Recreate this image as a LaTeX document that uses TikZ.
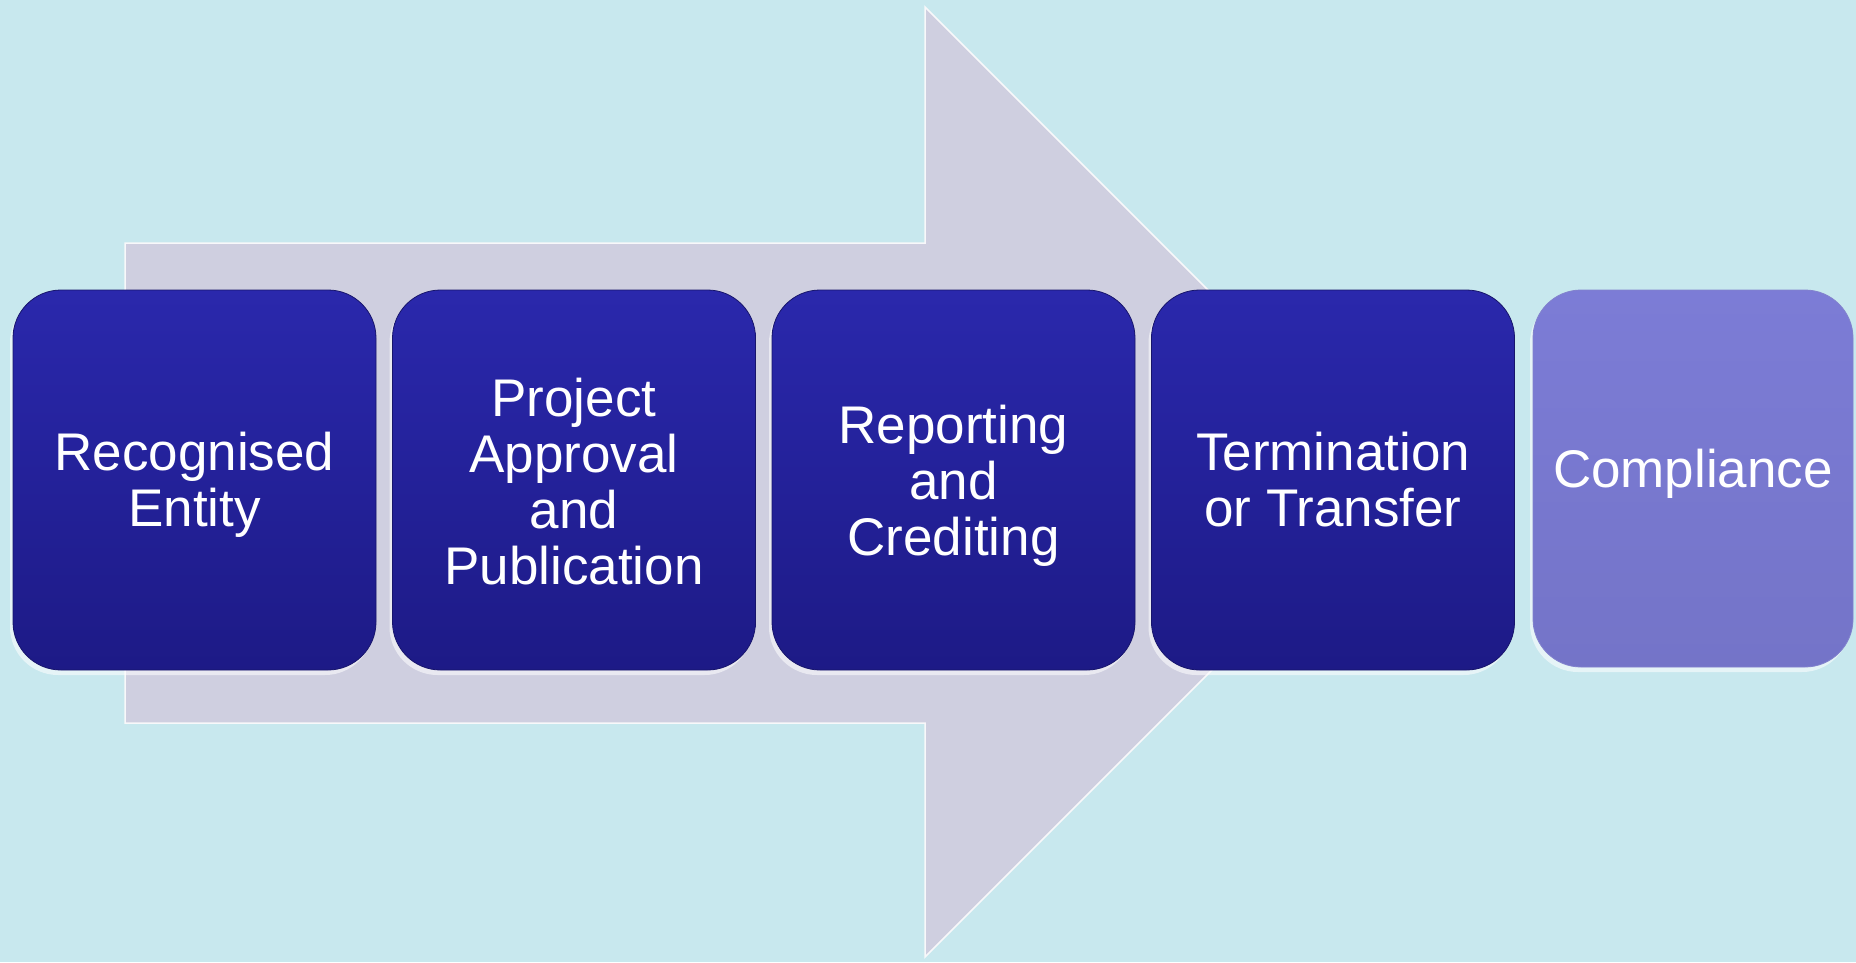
\documentclass[tikz,border=0pt]{standalone}
\usepackage{fontspec}
\setmainfont{Liberation Sans}
\usetikzlibrary{shadows}
\definecolor{bgblue}{HTML}{C8E8EE}
\definecolor{arrowgray}{HTML}{CFCFE0}
\definecolor{boxtop}{HTML}{2A28AC}
\definecolor{boxbot}{HTML}{1D1A86}
\definecolor{comptop}{HTML}{7C7CD6}
\definecolor{compbot}{HTML}{7474C8}
\tikzset{
  stagebox/.style={rectangle, rounded corners=48pt, minimum width=363pt,
    minimum height=380pt, inner sep=0pt,
    top color=boxtop, bottom color=boxbot, draw=boxbot!80!black, line width=0.8pt,
    drop shadow={shadow xshift=-3pt, shadow yshift=-5pt, fill=white, opacity=0.55}},
  compbox/.style={stagebox, minimum width=320pt, minimum height=377pt,
    top color=comptop, bottom color=compbot, draw=compbot!90!white},
  boxtext/.style={inner sep=0pt, text=white, align=center,
    font=\fontsize{53}{56}\selectfont},
  bigarrow/.style={fill=arrowgray, draw=white!85!arrowgray, line width=1.5pt}
}
\begin{document}
\begin{tikzpicture}[x=1pt,y=-1pt]
\useasboundingbox (0,0) rectangle (1856,962);
\fill[bgblue] (0,0) rectangle (1856,962);
\draw[bigarrow] (125,243) -- (925,243) -- (925,7) -- (1400,482) -- (925,957)
  -- (925,723) -- (125,723) -- cycle;
\node[stagebox] (s1) at (194.5,480) {};
\node[stagebox] (s2) at (574,480) {};
\node[stagebox] (s3) at (953.5,480) {};
\node[stagebox] (s4) at (1333,480) {};
\node[compbox] (s5) at (1693,478.5) {};
\node[boxtext] (t1) at ([yshift=-5pt]s1.center) {Recognised\\Entity};
\node[boxtext] (t2) at ([yshift=-2pt]s2.center) {Project\\Approval\\and\\Publication};
\node[boxtext] (t3) at ([yshift=-6pt]s3.center) {Reporting\\and\\Crediting};
\node[boxtext] (t4) at (s4.center) {Termination\\or Transfer};
\node[boxtext, anchor=base] (t5) at ([yshift=-9pt]s5.center) {Compliance};
\end{tikzpicture}
\end{document}
